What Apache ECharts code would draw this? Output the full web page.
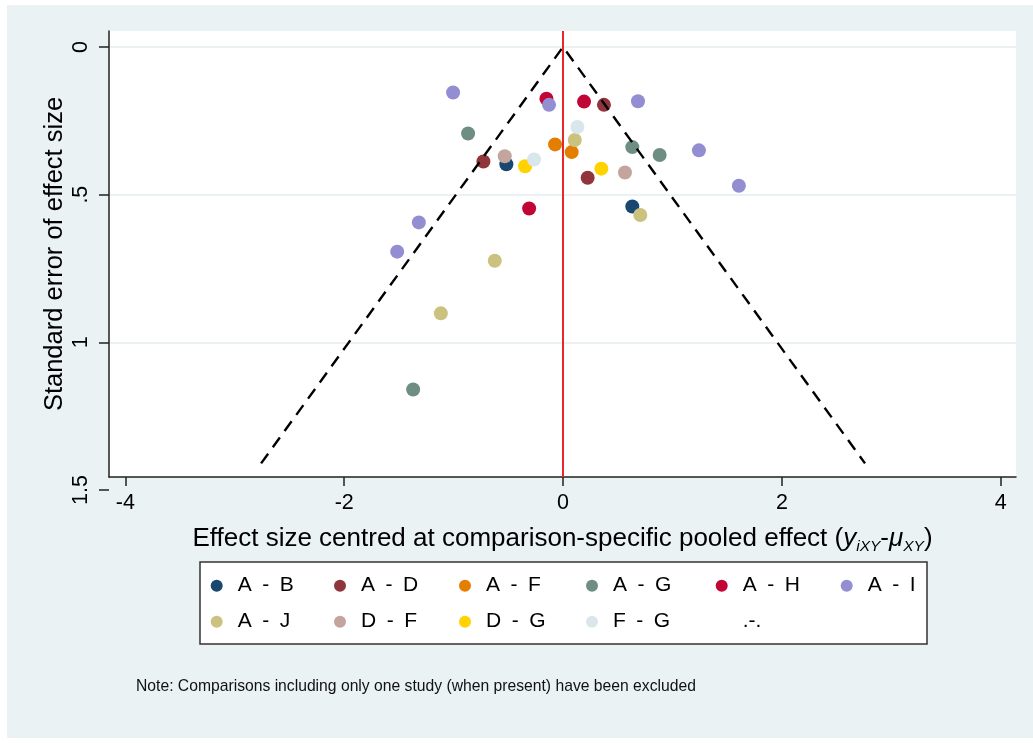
<!DOCTYPE html>
<html><head><meta charset="utf-8">
<script src="https://cdn.jsdelivr.net/npm/echarts@6/dist/echarts.min.js"></script>
<style>html,body{margin:0;padding:0;background:#fff;}#c{width:1033px;height:743px;}</style>
</head><body><div id="c"></div>
<script>
// ---- data (effect size centred, standard error) ----
const comparisons = ['A - B','A - D','A - F','A - G','A - H','A - I','A - J','D - F','D - G','F - G'];
const colors = ['#1a476f','#90353b','#e37e00','#6e8e84','#c10534','#938dd2','#cac27e','#c4a59d','#ffd200','#d9e6eb'];
const ptsAB = [[-0.518, 0.397], [0.633, 0.540]];
const ptsAD = [[-0.728, 0.388], [0.374, 0.196], [0.225, 0.443]];
const ptsAF = [[-0.073, 0.330], [0.079, 0.356]];
const ptsAG = [[-0.868, 0.293], [0.633, 0.339], [0.883, 0.366], [-1.370, 1.160]];
const ptsAH = [[-0.152, 0.175], [0.192, 0.185], [-0.310, 0.547]];
const ptsAI = [[-1.005, 0.154], [-0.128, 0.196], [0.685, 0.184], [1.242, 0.350], [1.607, 0.470], [-1.318, 0.594], [-1.516, 0.693]];
const ptsAJ = [[0.107, 0.315], [-0.624, 0.724], [-1.117, 0.902], [0.706, 0.569]];
const ptsDF = [[-0.533, 0.370], [0.566, 0.425]];
const ptsDG = [[-0.347, 0.404], [0.350, 0.412]];
const ptsFG = [[-0.265, 0.381], [0.131, 0.271]];
const seriesPts = [ptsAB, ptsAD, ptsAF, ptsAG, ptsAH, ptsAI, ptsAJ, ptsDF, ptsDG, ptsFG];
const funnelX = [-2.76, 0, 2.76];
const funnelSE = [1.41, 0, 1.41];
const xTicks = [-4, -2, 0, 2, 4];
const seTicks = [0, 0.5, 1, 1.5];
const seTickLabels = ['0', '.5', '1', '1.5'];
const legendRows = [['A - B','A - D','A - F','A - G','A - H','A - I'], ['A - J','D - F','D - G','F - G','.-.']];
const noteText = 'Note: Comparisons including only one study (when present) have been excluded';

// ---- layout (pixels) ----
const FONT = 'Liberation Sans, Arial, Helvetica, sans-serif';
const legendColX = [216.7, 340, 465, 592, 721.7, 846.7];
const legendRowY = [585.7, 621.7];

const chart = echarts.init(document.getElementById('c'));

const series = comparisons.map((name, i) => ({
  name, type: 'scatter', xAxisIndex: 0, yAxisIndex: 0,
  data: seriesPts[i], symbol: 'circle', symbolSize: 14,
  itemStyle: { color: colors[i], opacity: 1 }, z: 2, silent: true
}));
series.push({ name: '.-.', type: 'scatter', data: [], itemStyle: { color: 'rgba(0,0,0,0)' } });
series.push({
  type: 'line', xAxisIndex: 0, yAxisIndex: 0, z: 4, silent: true,
  data: funnelX.map((x, i) => [x, funnelSE[i]]),
  symbol: 'none', lineStyle: { color: '#000', width: 2.4, type: [12, 8] },
  markLine: {
    silent: true, symbol: 'none', label: { show: false },
    lineStyle: { color: '#e8262c', width: 2, type: 'solid' },
    data: [{ xAxis: xTicks[2] }]
  }
});

const legends = [];
legendRows.forEach((row, r) => row.forEach((name, c) => {
  legends.push({
    data: [name], left: legendColX[c] - 6, top: legendRowY[r] - 12,
    orient: 'horizontal', itemGap: 0, itemWidth: 12, itemHeight: 12, icon: 'circle',
    padding: 0, selectedMode: false,
    textStyle: { fontSize: 21, color: '#000', fontFamily: FONT, lineHeight: 24, padding: [0, 0, 0, 10] },
    formatter: n => n.replace(/ /g, '\u2002')
  });
}));

chart.setOption({
  backgroundColor: '#fff',
  animation: false,
  graphic: [
    { type: 'rect', z: -1, shape: { x: 7, y: 5, width: 1026, height: 733 }, style: { fill: '#eaf2f3' }, silent: true },
    { type: 'rect', z: 1, shape: { x: 200, y: 562, width: 727, height: 82 }, style: { fill: '#fff', stroke: '#333', lineWidth: 1.5 }, silent: true }
  ],
  title: {
    text: noteText, left: 136, top: 679, padding: 0,
    textStyle: { fontSize: 15.7, fontWeight: 'normal', color: '#111', fontFamily: FONT }
  },
  legend: legends,
  grid: [
    { left: 109, top: 31, width: 907, height: 446, show: true, backgroundColor: '#fff', borderWidth: 0 },
    { left: 125.4, top: 31, width: 875.3, height: 446, show: false },
    { left: 109, top: 46.95, width: 907, height: 443.05, show: false }
  ],
  xAxis: [
    {
      gridIndex: 0, type: 'value', min: -4.15, max: 4.14, position: 'bottom',
      axisLine: { show: true, onZero: false, lineStyle: { color: '#222', width: 1.5 } },
      axisTick: { show: false }, axisLabel: { show: false }, splitLine: { show: false },
      name: '{n|Effect size centred at comparison-specific pooled effect (}{i|y}{s|iXY}{n|-}{i|\u03bc}{s|XY}{n|)}',
      nameLocation: 'middle', nameGap: 46,
      nameTextStyle: {
        fontFamily: FONT, color: '#000', fontSize: 26,
        rich: {
          n: { fontSize: 26, fontFamily: FONT, color: '#000', lineHeight: 32 },
          i: { fontSize: 26, fontStyle: 'italic', fontFamily: FONT, color: '#000', lineHeight: 32 },
          s: { fontSize: 15.5, fontStyle: 'italic', fontFamily: FONT, color: '#000', lineHeight: 17, verticalAlign: 'bottom' }
        }
      }
    },
    {
      gridIndex: 1, type: 'value', min: -4, max: 4, interval: 2, position: 'bottom',
      axisLine: { show: false, onZero: false },
      axisTick: { show: true, length: 9, lineStyle: { color: '#222', width: 1.5 } },
      axisLabel: { show: true, margin: 15, fontSize: 21.5, color: '#000', fontFamily: FONT },
      splitLine: { show: false }
    },
    { gridIndex: 2, type: 'value', min: -4.15, max: 4.14, show: false }
  ],
  yAxis: [
    {
      gridIndex: 0, type: 'value', min: -0.054, max: 1.456, inverse: true, position: 'left',
      axisLine: { show: true, onZero: false, lineStyle: { color: '#222', width: 1.5 } },
      axisTick: { show: false }, axisLabel: { show: false }, splitLine: { show: false },
      name: 'Standard error of effect size', nameLocation: 'middle', nameGap: 41,
      nameTextStyle: { fontFamily: FONT, color: '#000', fontSize: 25.5 }
    },
    { gridIndex: 1, type: 'value', min: 0, max: 1.5, show: false },
    {
      gridIndex: 2, type: 'value', min: 0, max: 1.5, interval: 0.5, inverse: true, position: 'left',
      axisLine: { show: false, onZero: false },
      axisTick: { show: true, length: 10, lineStyle: { color: '#222', width: 1.5 } },
      axisLabel: {
        show: true, rotate: 90, margin: 17, fontSize: 21.5, color: '#000', fontFamily: FONT,
        formatter: v => seTickLabels[seTicks.indexOf(v)]
      },
      splitLine: { show: true, showMaxLine: false, lineStyle: { color: '#e6eeef', width: 1.5 } }
    }
  ],
  series
});
</script></body></html>
